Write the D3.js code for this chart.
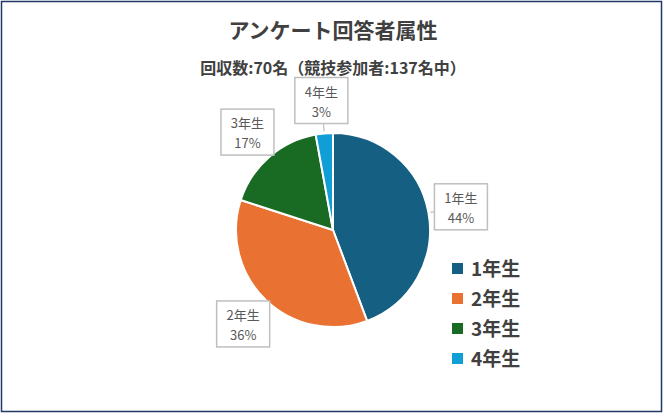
<!DOCTYPE html>
<html><head><meta charset="utf-8">
<script src="https://cdn.jsdelivr.net/npm/d3@7"></script>
<style>body{margin:0;background:#fff}</style>
</head><body>
<svg id="chart" width="664" height="416"></svg>
<script>
(function() {

  var categories = ["1年生", "2年生", "3年生", "4年生"];
  var counts = [31, 25, 12, 2];
  var percentLabels = ["44%", "36%", "17%", "3%"];
  var colors = ["#155F82", "#E97132", "#196B24", "#0F9ED5"];

  var svg = d3.select("#chart");
  var font = "'Noto Sans CJK JP', 'Noto Sans', sans-serif";

  svg.append("rect")
    .attr("x", 1.5).attr("y", 1.5).attr("width", 660).attr("height", 410)
    .attr("fill", "#fff").attr("stroke", "#1F3864").attr("stroke-width", 1.5);

  svg.append("text").text("アンケート回答者属性")
    .attr("x", 333).attr("y", 38).attr("text-anchor", "middle")
    .attr("font-family", font).attr("font-weight", "bold").attr("font-size", 21)
    .attr("fill", "#404040");

  svg.append("text").text("回収数:70名（競技参加者:137名中）")
    .attr("x", 333).attr("y", 74).attr("text-anchor", "middle")
    .attr("font-family", font).attr("font-weight", "bold").attr("font-size", 16)
    .attr("fill", "#404040");

  var cx = 333, cy = 230, r = 97;
  var pie = d3.pie().sort(null).value(function(d) { return d; });
  var arcs = pie(counts);
  var arc = d3.arc().innerRadius(0).outerRadius(r);
  var labelArc = d3.arc().innerRadius(130).outerRadius(130);
  var edgeArc = d3.arc().innerRadius(r + 2).outerRadius(r + 2);

  var g = svg.append("g").attr("transform", "translate(" + cx + "," + cy + ")");

  g.selectAll("path.slice")
    .data(arcs)
    .enter()
    .append("path")
    .attr("class", "slice")
    .attr("d", arc)
    .attr("fill", function(d, i) { return colors[i]; })
    .attr("stroke", "#fff")
    .attr("stroke-width", 2);

  var bw = 53, bh = 46;
  var labels = g.selectAll("g.lbl")
    .data(arcs)
    .enter()
    .append("g")
    .attr("class", "lbl");

  labels.append("line")
    .attr("x1", function(d) { return labelArc.centroid(d)[0]; })
    .attr("y1", function(d) { return labelArc.centroid(d)[1]; })
    .attr("x2", function(d) { return edgeArc.centroid(d)[0]; })
    .attr("y2", function(d) { return edgeArc.centroid(d)[1]; })
    .attr("stroke", "#bfbfbf").attr("stroke-width", 1.2);

  labels.append("rect")
    .attr("x", function(d) { return labelArc.centroid(d)[0] - bw / 2; })
    .attr("y", function(d) { return labelArc.centroid(d)[1] - bh / 2; })
    .attr("width", bw).attr("height", bh)
    .attr("fill", "#fff").attr("stroke", "#bfbfbf").attr("stroke-width", 1.5);

  labels.append("text")
    .text(function(d, i) { return categories[i]; })
    .attr("x", function(d) { return labelArc.centroid(d)[0]; })
    .attr("y", function(d) { return labelArc.centroid(d)[1] - 4; })
    .attr("text-anchor", "middle").attr("font-family", font).attr("font-size", 13)
    .attr("fill", "#595959");

  labels.append("text")
    .text(function(d, i) { return percentLabels[i]; })
    .attr("x", function(d) { return labelArc.centroid(d)[0]; })
    .attr("y", function(d) { return labelArc.centroid(d)[1] + 16; })
    .attr("text-anchor", "middle").attr("font-family", font).attr("font-size", 13)
    .attr("fill", "#595959");

  var ly = d3.scaleBand().domain(categories).range([254, 374]);
  var legend = svg.selectAll("g.leg")
    .data(categories)
    .enter()
    .append("g")
    .attr("class", "leg")
    .attr("transform", function(d) { return "translate(452," + ly(d) + ")"; });

  legend.append("rect")
    .attr("x", 0).attr("y", 9).attr("width", 11).attr("height", 11)
    .attr("fill", function(d, i) { return colors[i]; });

  legend.append("text").text(function(d) { return d; })
    .attr("x", 19).attr("y", 22)
    .attr("font-family", font).attr("font-weight", "bold").attr("font-size", 19)
    .attr("fill", "#404040");

}());
</script>
</body></html>
